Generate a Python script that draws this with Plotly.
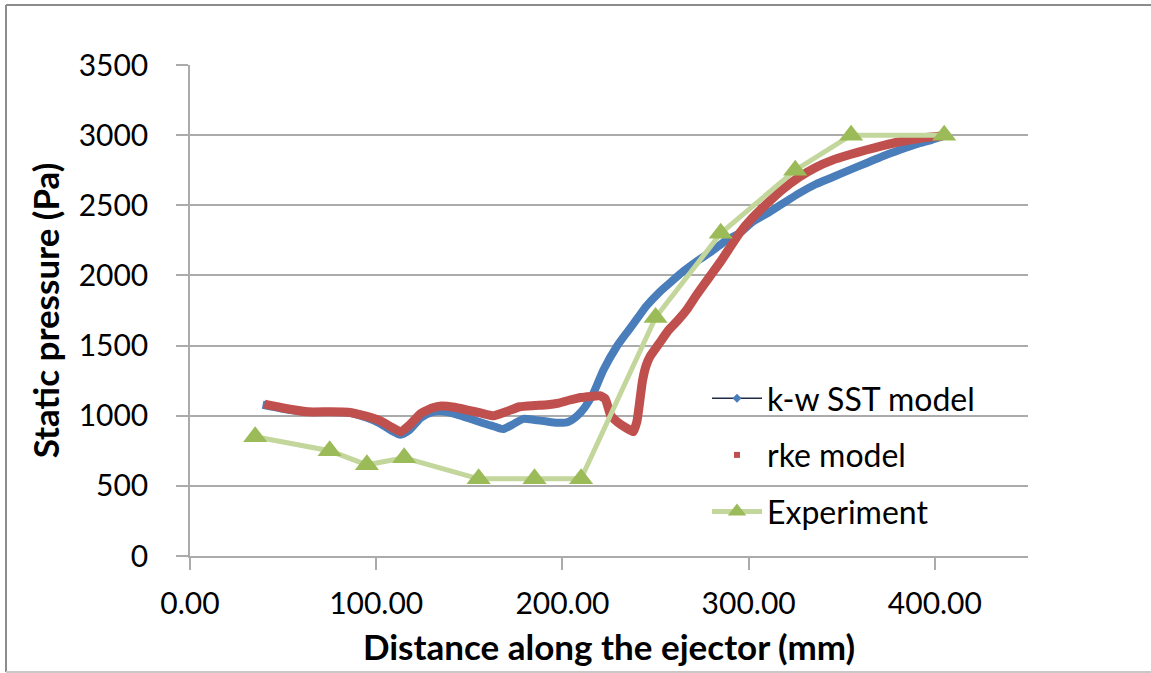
import plotly.graph_objects as go

# k-w SST model (distance in mm, static pressure in Pa)
kw_distance = [39, 50, 63, 75, 85, 95, 102, 108, 113, 118, 124, 130, 136, 143,
               150, 158, 163, 168, 173, 179, 185, 191, 197, 203, 208, 212, 216.6,
               222, 229, 235, 240, 245, 252, 258, 265, 272, 280, 288, 295, 302,
               310, 318, 327, 336, 345, 354, 363, 372, 381, 390, 398, 404]
kw_pressure = [1078, 1050, 1028, 1026, 1022, 985, 945, 895, 865, 900, 985, 1025,
               1030, 1010, 980, 945, 925, 905, 935, 978, 970, 960, 950, 955, 1000,
               1060, 1160, 1326, 1490, 1600, 1690, 1780, 1880, 1950, 2030, 2100,
               2170, 2250, 2300, 2380, 2443, 2510, 2585, 2650, 2700, 2751, 2800,
               2850, 2894, 2935, 2965, 2990]

# rke model
rke_distance = [40, 50, 63, 75, 85, 95, 102, 108, 113, 118, 124, 130, 135, 142,
                149, 156, 163, 170, 177, 185, 192, 198, 204, 210, 216, 220, 223,
                226, 230, 234, 238, 240, 241, 243, 245, 247, 252, 257, 262, 267,
                272, 279, 285, 290, 295, 302, 310, 318, 327, 336, 345, 354, 363,
                372, 381, 393, 404]
rke_pressure = [1082, 1055, 1028, 1028, 1025, 995, 965, 920, 886, 935, 1017, 1055,
                1069, 1060, 1040, 1020, 1000, 1030, 1064, 1072, 1078, 1090, 1112,
                1130, 1138, 1143, 1120, 1000, 950, 915, 886, 960, 1050, 1250, 1360,
                1421, 1516, 1610, 1680, 1760, 1860, 1990, 2100, 2200, 2300, 2410,
                2514, 2610, 2700, 2770, 2822, 2860, 2894, 2925, 2953, 2980, 2994]

# Experimental measurements
exp_distance = [35, 75, 95, 115, 155, 185, 210, 250, 285, 325, 355, 405]
exp_pressure = [850, 750, 650, 700, 550, 550, 550, 1700, 2300, 2750, 3000, 3000]

x_tick_values = [0, 100, 200, 300, 400]
x_tick_labels = ["0.00", "100.00", "200.00", "300.00", "400.00"]
y_tick_values = [0, 500, 1000, 1500, 2000, 2500, 3000, 3500]

FONT = "Lato, 'Open Sans', sans-serif"
GRID = "#ababab"

W, H = 1151, 673
L, R, T, B = 190, 123, 65, 117
plot_w = W - L - R
plot_h = H - T - B


def px_x(p):
    return (p - L) / plot_w


def px_y(p):
    return (H - B - p) / plot_h


fig = go.Figure()

# Curves drawn thick in the plot area
fig.add_trace(go.Scatter(
    x=kw_distance, y=kw_pressure, mode="lines",
    line=dict(color="#4a7ebb", width=8, shape="spline", smoothing=0.6),
    showlegend=False, legendgroup="kw"))
fig.add_trace(go.Scatter(
    x=rke_distance, y=rke_pressure, mode="lines",
    line=dict(color="#c0504d", width=9, shape="spline", smoothing=0.4),
    showlegend=False, legendgroup="rke"))
fig.add_trace(go.Scatter(
    x=exp_distance, y=exp_pressure, mode="lines+markers",
    line=dict(color="#c3d69b", width=5),
    marker=dict(symbol="triangle-up", size=21, color="#9bbb59"),
    name="Experiment", legendgroup="exp", legendrank=3))

# Legend keys for the two model series
fig.add_trace(go.Scatter(
    x=[None], y=[None], mode="lines+markers",
    line=dict(color="#1f2a44", width=1.5),
    marker=dict(symbol="diamond", size=7, color="#4a7ebb"),
    name="k-w SST model", legendgroup="kw", legendrank=1))
fig.add_trace(go.Scatter(
    x=[None], y=[None], mode="markers",
    marker=dict(symbol="square", size=6, color="#c0504d"),
    name="rke model", legendgroup="rke", legendrank=2))

# Outer chart frame
fig.add_shape(type="line", xref="paper", yref="paper",
              x0=px_x(6), x1=px_x(1160), y0=px_y(5), y1=px_y(5),
              line=dict(color="#8c8c8c", width=2))
fig.add_shape(type="line", xref="paper", yref="paper",
              x0=px_x(6), x1=px_x(6), y0=px_y(5), y1=px_y(672),
              line=dict(color="#8c8c8c", width=2))
fig.add_shape(type="line", xref="paper", yref="paper",
              x0=px_x(6), x1=px_x(1160), y0=px_y(672), y1=px_y(672),
              line=dict(color="#c8c8c8", width=2))

fig.update_layout(
    width=W, height=H,
    margin=dict(l=L, r=R, t=T, b=B, autoexpand=False),
    paper_bgcolor="white", plot_bgcolor="white",
    font=dict(family=FONT, color="#000000"),
    legend=dict(
        x=px_x(707), y=px_y(371), xanchor="left", yanchor="top",
        bgcolor="rgba(0,0,0,0)", borderwidth=0,
        font=dict(family=FONT, size=32, color="#000000"),
        traceorder="grouped", tracegroupgap=12, itemwidth=50,
    ),
    xaxis=dict(
        range=[0, 450], tickvals=x_tick_values, ticktext=x_tick_labels,
        automargin=False,
        showgrid=False, zeroline=False,
        showline=True, linecolor=GRID, linewidth=1.5,
        ticks="outside", ticklen=12, tickcolor=GRID, tickwidth=1.5,
        ticklabelstandoff=8,
        tickfont=dict(family=FONT, size=30),
        title=dict(text="<b>Distance along the ejector (mm)</b>",
                   font=dict(family=FONT, size=35), standoff=17),
    ),
    yaxis=dict(
        range=[0, 3500], tickvals=y_tick_values,
        automargin=False,
        showgrid=True, gridcolor=GRID, gridwidth=1.5, zeroline=False,
        showline=True, linecolor=GRID, linewidth=1.5,
        ticks="outside", ticklen=12, tickcolor=GRID, tickwidth=1.5,
        ticklabelstandoff=22,
        tickfont=dict(family=FONT, size=30),
        title=dict(text="<b>Static pressure (Pa)</b>",
                   font=dict(family=FONT, size=35), standoff=8),
    ),
)

fig.write_html("out.html")
